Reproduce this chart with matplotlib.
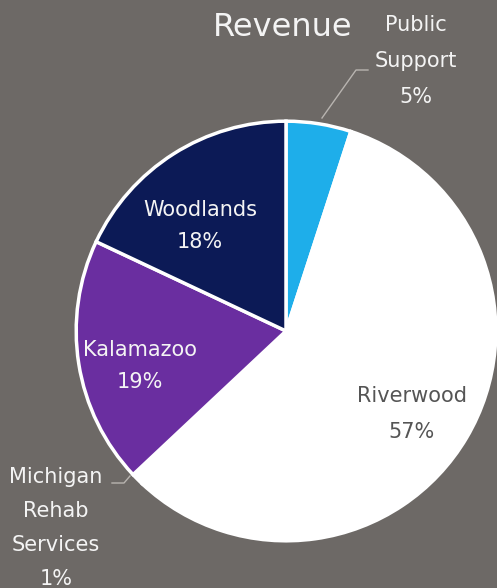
import matplotlib.pyplot as plt

labels = ['Public\nSupport', 'Riverwood', 'Michigan\nRehab\nServices', 'Kalamazoo', 'Woodlands']
values = [5, 57, 1, 19, 18]
colors = ['#1eaeea', '#ffffff', '#ffffff', '#6a2ea0', '#0c1a56']

bg = '#6d6966'
W, H = 497, 588

fig = plt.figure(figsize=(W / 100, H / 100), dpi=100, facecolor=bg)
# pie centre at (286, 331) px, radius 214 px
cx, cy, r = 286, 331, 214
ax = fig.add_axes([(cx - r) / W, (H - cy - r) / H, 2 * r / W, 2 * r / H])
ax.set_facecolor(bg)
wedges, _ = ax.pie(values, colors=colors, startangle=90, counterclock=False,
                   wedgeprops=dict(edgecolor='white', linewidth=2.5), radius=1)
ax.set_xlim(-1.02, 1.02)
ax.set_ylim(-1.02, 1.02)
ax.axis('off')

font = 'DejaVu Sans'
txt = '#f4f4f4'


def px(x, y):
    return x / W, 1 - y / H


fig.text(*px(283, 27), 'Revenue', color=txt, fontsize=23, ha='center', va='center',
         family=font)

def lab(x, y, s, pct, color=txt, size=15, gap=35):
    lines = s.split('\n') + [f'{pct}%']
    n = len(lines)
    for i, line in enumerate(lines):
        fig.text(*px(x, y + (i - (n - 1) / 2) * gap), line, color=color,
                 fontsize=size, ha='center', va='center', family=font)

lab(416, 61, labels[0], values[0], gap=36)
lab(412, 414, labels[1], values[1], color='#555555', gap=36)
lab(56, 528, labels[2], values[2], gap=34)
lab(140, 366, labels[3], values[3], gap=33)
lab(200, 226, labels[4], values[4], gap=33)

# leader lines
fig.add_artist(plt.Line2D([322 / W, 356 / W, 368 / W], [1 - 118 / H, 1 - 70 / H, 1 - 70 / H],
                          color='#b8b4b0', lw=1))
fig.add_artist(plt.Line2D([112 / W, 124 / W, 130 / W], [1 - 483 / H, 1 - 483 / H, 1 - 476 / H],
                          color='#b8b4b0', lw=1))

fig.savefig('out.png', dpi=100, facecolor=bg)
